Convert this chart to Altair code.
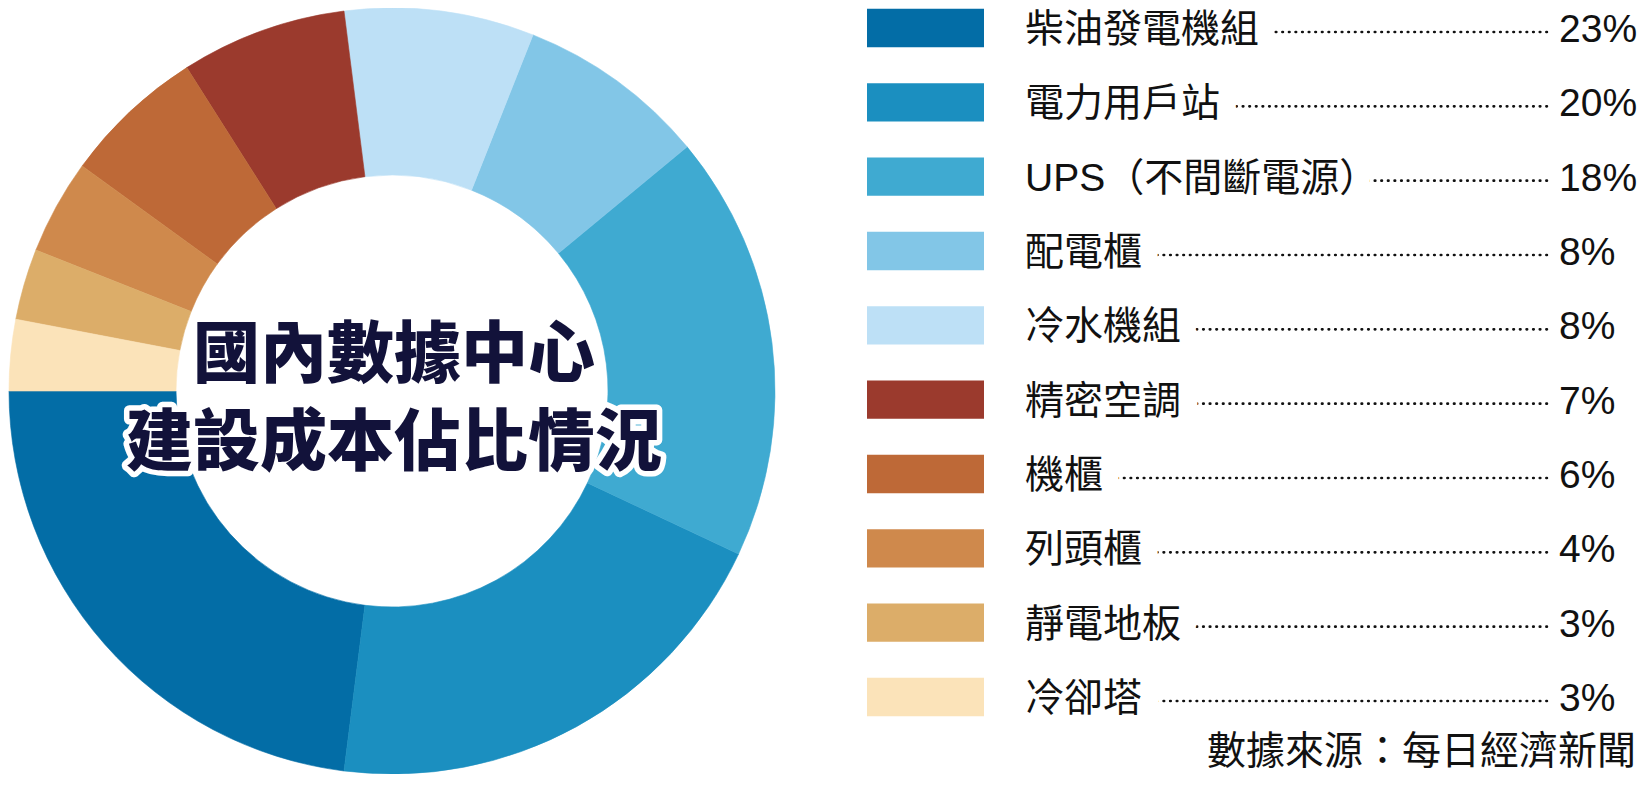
import math
import altair as alt
import pandas as pd

# ---- data ----
categories = ["柴油發電機組", "電力用戶站", "UPS（不間斷電源）", "配電櫃", "冷水機組",
              "精密空調", "機櫃", "列頭櫃", "靜電地板", "冷卻塔"]
shares = [23, 20, 18, 8, 8, 7, 6, 4, 3, 3]
colors = ["#036da6", "#1b8fc0", "#3faad1", "#82c6e7", "#bde0f6",
          "#9b3a2d", "#be6937", "#cf894c", "#dcad69", "#fbe3b9"]
title_lines = ["國內數據中心", "建設成本佔比情況"]
source_note = "數據來源：每日經濟新聞"

FONT = "Liberation Sans, Noto Sans CJK TC"
W, H = 1629, 766

df = pd.DataFrame({"cat": categories, "share": shares, "idx": list(range(len(categories)))})
df["pct"] = df["share"].astype(str) + "%"

base = alt.Chart(df)
color_scale = alt.Scale(domain=categories, range=colors)
y_scale = alt.Scale(domain=[0, 9], range=[20, 689], nice=False, zero=False)

donut = base.mark_arc(radius=383, radius2=216, strokeWidth=0.6).encode(
    theta=alt.Theta("share:Q", stack=True,
                    scale=alt.Scale(range=[3.5 * math.pi, 1.5 * math.pi])),
    order=alt.Order("idx:Q", sort="ascending"),
    color=alt.Color("cat:N", scale=color_scale, legend=None),
    stroke=alt.Stroke("cat:N", scale=color_scale, legend=None),
    x=alt.value(384),
    y=alt.value(383),
)

swatch = base.transform_calculate(
    y0="datum.idx - 0.258", y1="datum.idx + 0.258"
).mark_rect().encode(
    x=alt.value(859), x2=alt.value(976),
    y=alt.Y("y0:Q", scale=y_scale, axis=None), y2="y1:Q",
    color=alt.Color("cat:N", scale=color_scale, legend=None),
)

leader = base.mark_rule(strokeDash=[0.5, 6.1], strokeCap="round", strokeWidth=2.7,
                        color="#111111", yOffset=4).encode(
    x=alt.value(1017), x2=alt.value(1543),
    y=alt.Y("idx:Q", scale=y_scale, axis=None),
)

halo = base.mark_text(align="left", baseline="middle", font=FONT, fontSize=39,
                      fill="white", stroke="white", strokeWidth=38,
                      strokeJoin="round", dy=2).encode(
    x=alt.value(1017), y=alt.Y("idx:Q", scale=y_scale, axis=None), text="cat:N")

labels = base.mark_text(align="left", baseline="middle", font=FONT, fontSize=39,
                        fill="#111111", dy=2).encode(
    x=alt.value(1017), y=alt.Y("idx:Q", scale=y_scale, axis=None), text="cat:N")

pct = base.mark_text(align="left", baseline="middle", font=FONT, fontSize=39,
                     fill="#111111", dy=2).encode(
    x=alt.value(1551), y=alt.Y("idx:Q", scale=y_scale, axis=None), text="pct:N")

source = alt.Chart(pd.DataFrame({"t": [source_note]})).mark_text(
    align="right", baseline="middle", font=FONT, fontSize=39, fill="#111111").encode(
    x=alt.value(1628), y=alt.value(744), text="t:N")

one = pd.DataFrame({"a": [0]})
title_halo = alt.Chart(one).mark_text(
    text=title_lines, lineHeight=88, fontSize=67, fontWeight=900, font="Noto Sans CJK TC",
    align="center", baseline="middle", fill="white", stroke="white", strokeWidth=11,
    strokeJoin="round").encode(x=alt.value(386), y=alt.value(349))
title = alt.Chart(one).mark_text(
    text=title_lines, lineHeight=88, fontSize=67, fontWeight=900, font="Noto Sans CJK TC",
    align="center", baseline="middle", fill="#12123a").encode(
    x=alt.value(386), y=alt.value(349))

chart = alt.layer(
    donut, swatch, leader, halo, labels, pct, source, title_halo, title
).properties(
    width=W, height=H, padding=0, autosize="none", background="white"
).configure_view(stroke=None)

chart.save("out.html", embed_options={"renderer": "svg", "actions": False})
